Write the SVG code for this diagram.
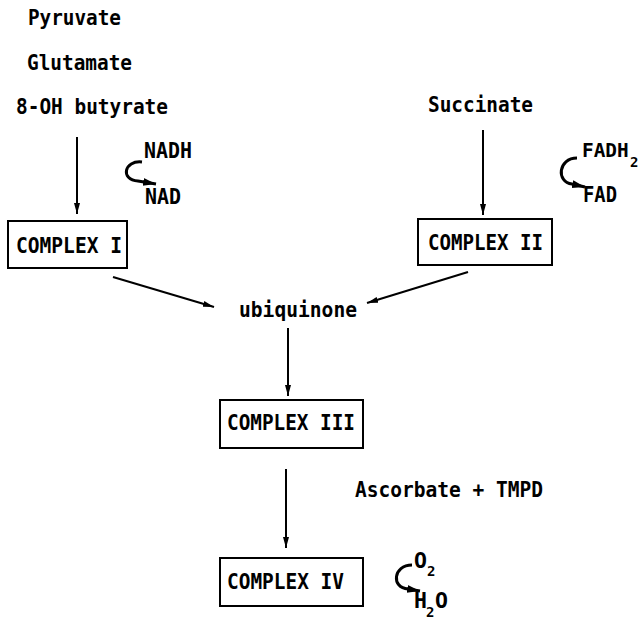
<svg xmlns="http://www.w3.org/2000/svg" width="639" height="620" viewBox="0 0 639 620">
<defs>
<style>
text{font-family:"DejaVu Sans Mono","Liberation Mono",monospace;font-size:21.5px;font-weight:bold;fill:#000}
.sub{font-size:14px}
.sm{font-size:19.4px}
.box{fill:#fff;stroke:#000;stroke-width:2}
.ln{fill:none;stroke:#000;stroke-width:2}
.curl{fill:none;stroke:#000;stroke-width:3}
</style>
<marker id="ah" markerUnits="userSpaceOnUse" markerWidth="12" markerHeight="8" refX="11" refY="4" orient="auto">
<path d="M0,1 L11,4 L0,7 Z" fill="#000"/>
</marker>
<marker id="ah2" markerUnits="userSpaceOnUse" markerWidth="14" markerHeight="10" refX="13" refY="5" orient="auto">
<path d="M0,1 L13,5 L0,9 Z" fill="#000"/>
</marker>
</defs>
<rect width="639" height="620" fill="#fff"/>
<g id="substrates">
<text x="28" y="25" textLength="93" lengthAdjust="spacingAndGlyphs">Pyruvate</text>
<text x="27" y="70" textLength="105" lengthAdjust="spacingAndGlyphs">Glutamate</text>
<text x="16" y="114" textLength="152" lengthAdjust="spacingAndGlyphs">8-OH butyrate</text>
</g>
<g id="succinate"><text x="428" y="112" textLength="105" lengthAdjust="spacingAndGlyphs">Succinate</text></g>
<g id="nadh">
<text x="144" y="158" textLength="48" lengthAdjust="spacingAndGlyphs">NADH</text>
<text x="145" y="204" textLength="36" lengthAdjust="spacingAndGlyphs">NAD</text>
</g>
<g id="fadh">
<text class="sm" x="582" y="157">FADH</text>
<text class="sub" x="630" y="167">2</text>
<text x="583" y="202" textLength="34" lengthAdjust="spacingAndGlyphs">FAD</text>
</g>
<g id="complex1">
<rect class="box" x="8" y="221" width="119" height="47"/>
<text x="16" y="253" textLength="106" lengthAdjust="spacingAndGlyphs">COMPLEX I</text>
</g>
<g id="complex2">
<rect class="box" x="418" y="219" width="134" height="46"/>
<text x="428" y="250" textLength="115" lengthAdjust="spacingAndGlyphs">COMPLEX II</text>
</g>
<g id="ubiquinone"><text x="239" y="317" textLength="118" lengthAdjust="spacingAndGlyphs">ubiquinone</text></g>
<g id="complex3">
<rect class="box" x="220" y="400" width="143" height="48"/>
<text x="227" y="430" textLength="128" lengthAdjust="spacingAndGlyphs">COMPLEX III</text>
</g>
<g id="ascorbate"><text x="355" y="497" textLength="188" lengthAdjust="spacingAndGlyphs">Ascorbate + TMPD</text></g>
<g id="complex4">
<rect class="box" x="220" y="558" width="143" height="48"/>
<text x="227" y="589" textLength="117" lengthAdjust="spacingAndGlyphs">COMPLEX IV</text>
</g>
<g id="oxygen">
<text x="414" y="568">O</text>
<text class="sub" x="427" y="576">2</text>
<text x="414" y="608">H</text>
<text class="sub" x="426" y="617">2</text>
<text x="435" y="608">O</text>
</g>
<g id="connectors">
<line class="ln" x1="77" y1="137" x2="77" y2="214" marker-end="url(#ah)"/>
<line class="ln" x1="483" y1="130" x2="483" y2="215" marker-end="url(#ah)"/>
<line class="ln" x1="113" y1="277" x2="214" y2="307" marker-end="url(#ah)"/>
<line class="ln" x1="468" y1="272" x2="367" y2="303" marker-end="url(#ah)"/>
<line class="ln" x1="288" y1="328" x2="288" y2="396" marker-end="url(#ah)"/>
<line class="ln" x1="286" y1="469" x2="286" y2="548" marker-end="url(#ah)"/>
<path class="curl" d="M142,162 C124,160 120,180 138,181 L156,184" marker-end="url(#ah2)"/>
<path class="curl" d="M577,158 C558,158 556,182 572,184 L585,187" marker-end="url(#ah2)"/>
<path class="curl" d="M412,565 C393,565 391,588 408,589 L420,591" marker-end="url(#ah2)"/>
</g>
</svg>
